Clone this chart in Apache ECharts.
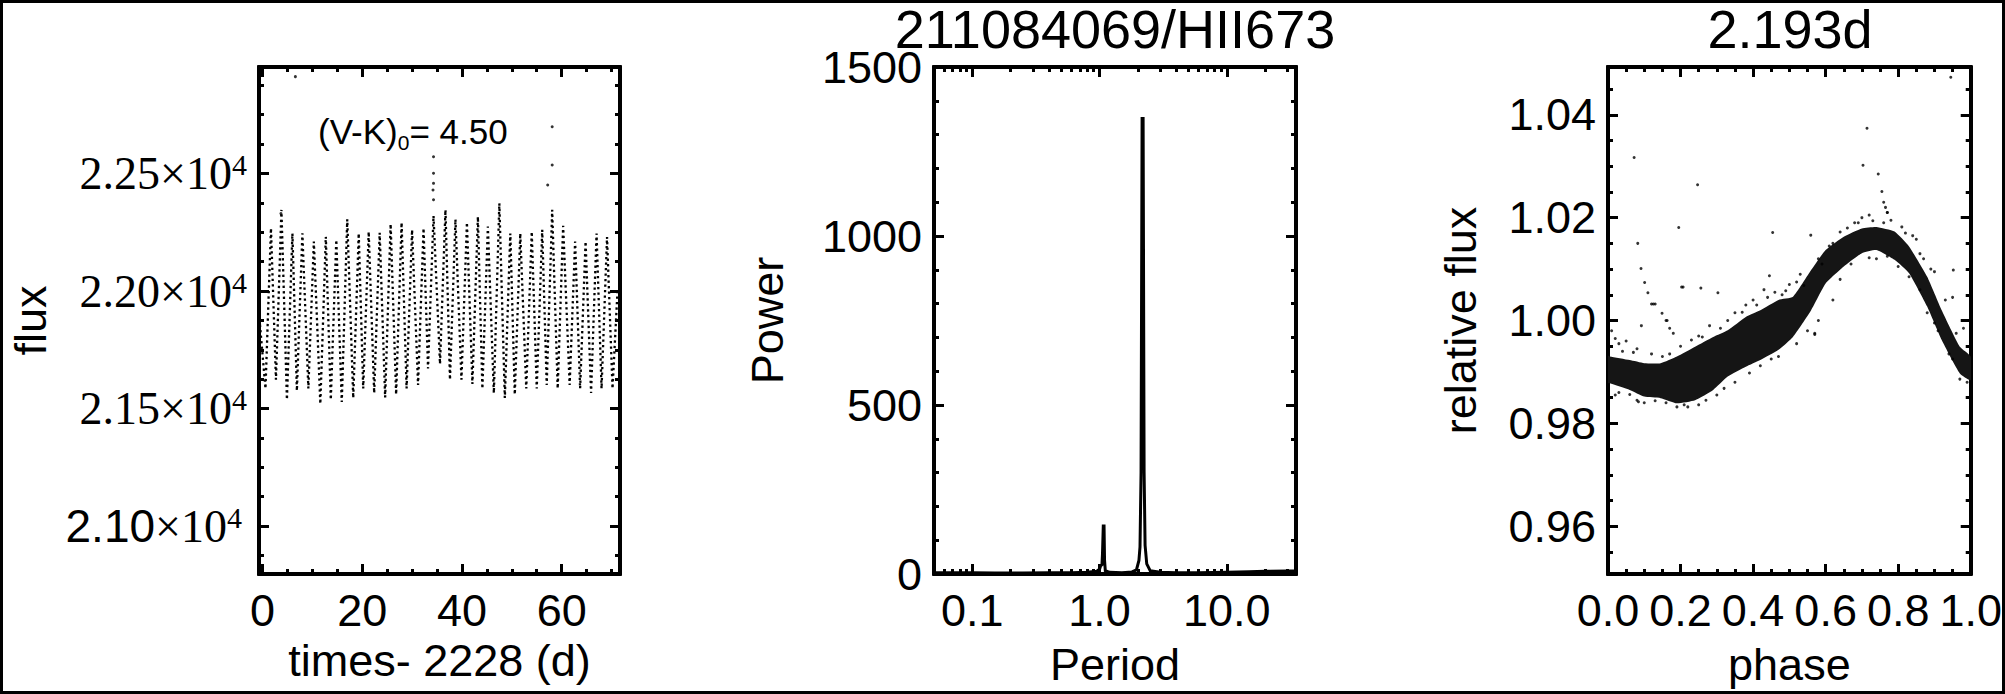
<!DOCTYPE html>
<html><head><meta charset="utf-8">
<script src="https://cdn.jsdelivr.net/npm/echarts@6/dist/echarts.min.js"></script>
<style>html,body{margin:0;padding:0;background:#fff}#c{width:2005px;height:694px}</style>
</head><body><div id="c"></div>
<script>
// ---------------- Panel 1 : light curve (times - 2228 d, flux) ----------------
// vertices of each pulsation cycle (alternating cycle minimum / maximum)
const lcTime = [-0.6, 0.6, 1.7, 2.7, 3.8, 4.9, 6.0, 6.9, 8.0, 9.2, 10.3, 11.6, 12.7, 13.7, 14.8, 15.9, 17.0, 18.2, 19.3, 20.2, 21.3, 22.4, 23.5, 24.6, 25.7, 26.8, 27.9, 28.9, 30.0, 31.2, 32.3, 33.2, 34.3, 35.6, 36.7, 37.6, 38.7, 39.9, 41.0, 42.1, 43.2, 44.1, 45.2, 46.4, 47.5, 48.6, 49.7, 50.6, 51.7, 52.9, 54.0, 55.0, 56.1, 57.0, 58.1, 59.2, 60.3, 61.6, 62.7, 63.7, 64.8, 65.9, 67.0, 68.0, 69.1, 70.2, 71.2];
const lcFlux = [21880, 21585, 22267, 21623, 22345, 21538, 22245, 21576, 22245, 21585, 22210, 21520, 22231, 21538, 22217, 21528, 22305, 21545, 22245, 21585, 22252, 21566, 22248, 21547, 22285, 21560, 22291, 21585, 22260, 21600, 22267, 21670, 22320, 21690, 22345, 21623, 22305, 21623, 22291, 21604, 22316, 21585, 22274, 21566, 22373, 21545, 22245, 21560, 22245, 21585, 22252, 21585, 22260, 21600, 22345, 21585, 22277, 21600, 22210, 21585, 22210, 21566, 22245, 21585, 22230, 21585, 22000];
const lcOutTime = [6.6, 34.3, 34.3, 34.3, 34.2, 34.3, 58.1, 58.1, 57.2, 3.7];
const lcOutFlux = [22912, 22571, 22501, 22458, 22430, 22388, 22699, 22536, 22451, 22330];
const p1XMajor = [0, 20, 40, 60];
const p1XMinor = [5, 10, 15, 25, 30, 35, 45, 50, 55, 65, 70];
const p1YMajor = [21000, 21500, 22000, 22500];
const p1YMinor = [20875, 21125, 21250, 21375, 21625, 21750, 21875, 22125, 22250, 22375, 22625, 22750, 22875];

// ---------------- Panel 2 : periodogram ----------------
const perPeriod = [0.05, 0.07, 0.1, 0.15, 0.25, 0.4, 0.6, 0.8, 0.95, 1.0, 1.02, 1.045, 1.055, 1.07, 1.085, 1.095, 1.11, 1.2, 1.5, 1.8, 1.95, 2.04, 2.08, 2.12, 2.16, 2.2, 2.24, 2.28, 2.35, 2.5, 3.0, 4, 6, 10, 15, 20, 30, 35];
const perPower  = [4, 4, 4, 3, 3, 4, 4, 5, 8, 14, 24, 28, 60, 142, 142, 40, 10, 5, 4, 6, 12, 40, 80, 300, 1348, 1348, 300, 85, 30, 10, 5, 4, 4, 5, 7, 8, 9, 9];
const p2XMajor = [0.1, 1, 10];
const p2XMinor = [0.05, 0.06, 0.07, 0.08, 0.09, 0.2, 0.3, 0.4, 0.5, 0.6, 0.7, 0.8, 0.9, 2, 3, 4, 5, 6, 7, 8, 9, 20, 30];
const p2YMajor = [0, 500, 1000, 1500];
const p2YMinor = [100, 200, 300, 400, 600, 700, 800, 900, 1100, 1200, 1300, 1400];

// ---------------- Panel 3 : phased light curve ----------------
const bandPhase = [0.0, 0.005, 0.06, 0.10, 0.145, 0.19, 0.24, 0.29, 0.33, 0.38, 0.42, 0.47, 0.51, 0.56, 0.60, 0.65, 0.70, 0.74, 0.79, 0.83, 0.88, 0.92, 0.97, 1.0];
const bandUpper = [0.9932, 0.9930, 0.9923, 0.9917, 0.9917, 0.9930, 0.9949, 0.9968, 0.9981, 1.0007, 1.0020, 1.0040, 1.0046, 1.0098, 1.0137, 1.0163, 1.0179, 1.0182, 1.0173, 1.0144, 1.0085, 1.0020, 0.9949, 0.9930];
const bandLower = [0.9878, 0.9878, 0.9865, 0.9852, 0.9849, 0.9839, 0.9845, 0.9865, 0.9891, 0.9910, 0.9923, 0.9943, 0.9968, 1.0020, 1.0072, 1.0105, 1.0131, 1.0137, 1.0118, 1.0092, 1.0027, 0.9962, 0.9897, 0.9884];
const dotPhase = [0.072, 0.082, 0.091, 0.101, 0.110, 0.12, 0.125, 0.13, 0.149, 0.16, 0.163, 0.17, 0.18, 0.195, 0.203, 0.207, 0.247, 0.256, 0.303, 0.445, 0.454, 0.559, 0.570, 0.703, 0.714, 0.745, 0.755, 0.76, 0.765, 0.77, 0.952, 0.945, 0.084, 0.092,
  0.02, 0.03, 0.01, 0.05, 0.08, 0.12, 0.20, 0.25, 0.28, 0.33, 0.35, 0.38, 0.40, 0.43, 0.46, 0.50, 0.52, 0.53, 0.58, 0.62, 0.68, 0.70, 0.72, 0.77, 0.78, 0.82, 0.84, 0.86, 0.90, 0.95, 0.98,
  0.02, 0.08, 0.10, 0.19, 0.21, 0.27, 0.30, 0.35, 0.45, 0.55, 0.57, 0.62, 0.74, 0.80, 0.86, 0.90, 0.95, 0.99,
  0.04, 0.07, 0.15, 0.17, 0.23, 0.26, 0.31, 0.37, 0.41, 0.44, 0.48, 0.49, 0.54, 0.59, 0.61, 0.64, 0.66, 0.69, 0.73, 0.76, 0.81, 0.85, 0.87, 0.89, 0.93, 0.96,
  0.03, 0.06, 0.13, 0.16, 0.22, 0.25, 0.32, 0.39, 0.42, 0.47, 0.52, 0.58, 0.64, 0.67, 0.72, 0.77, 0.83, 0.88, 0.91, 0.94, 0.97];
const dotFlux = [1.0317, 1.0150, 1.0101, 1.0074, 1.0054, 1.0032, 1.0032, 1.0032, 1.0014, 1.0000, 1.0000, 0.9985, 0.9975, 1.0181, 1.0065, 1.0065, 1.0264, 1.0063, 1.0054, 1.0087, 1.0171, 1.0166, 0.9973, 1.0302, 1.0374, 1.0285, 1.0251, 1.0230, 1.0220, 1.0210, 1.0098, 1.0473, 0.9842, 0.9990,
  0.9965, 0.9955, 0.9980, 0.9960, 0.9945, 0.9935, 0.9950, 0.9970, 0.9990, 1.0000, 1.0015, 1.0030, 1.0040, 1.0060, 1.0055, 1.0070, 1.0075, 1.0090, 1.0120, 1.0150, 1.0190, 1.0200, 1.0205, 1.0210, 1.0195, 1.0170, 1.0165, 1.0130, 1.0095, 1.0045, 0.9985,
  0.9855, 0.9845, 0.9840, 0.9832, 0.9836, 0.9845, 0.9855, 0.9880, 0.9925, 0.9980, 0.9975, 1.0040, 1.0120, 1.0105, 1.0060, 0.9995, 0.9925, 0.9880,
  0.9940, 0.9938, 0.9930, 0.9935, 0.9962, 0.9968, 0.9985, 1.0016, 1.0030, 1.0045, 1.0050, 1.0058, 1.0068, 1.0110, 1.0145, 1.0172, 1.0180, 1.0190, 1.0194, 1.0190, 1.0182, 1.0158, 1.0120, 1.0100, 1.0040, 0.9975,
  0.9860, 0.9856, 0.9844, 0.9840, 0.9832, 0.9836, 0.9868, 0.9898, 0.9912, 0.9930, 0.9955, 1.0000, 1.0080, 1.0110, 1.0122, 1.0125, 1.0085, 1.0015, 0.9980, 0.9935, 0.9886];
const p3XMajor = [0, 0.2, 0.4, 0.6, 0.8, 1.0];
const p3XMinor = [0.05, 0.1, 0.15, 0.25, 0.3, 0.35, 0.45, 0.5, 0.55, 0.65, 0.7, 0.75, 0.85, 0.9, 0.95];
const p3YMajor = [0.96, 0.98, 1.00, 1.02, 1.04];
const p3YMinor = [0.955, 0.965, 0.97, 0.975, 0.985, 0.99, 0.995, 1.005, 1.01, 1.015, 1.025, 1.03, 1.035, 1.045];

// ---------------- styling ----------------
const SANS = "'Liberation Sans', Arial, Helvetica, sans-serif";
const SERIF = "'Liberation Serif', 'Times New Roman', serif";
const FS = 45;
const BLACK = '#000';

function axisSet(dim, gi, type, min, max, major, minor, extra) {
  const posA = dim === 'x' ? 'bottom' : 'left';
  const posB = dim === 'x' ? 'top' : 'right';
  const mk = (pos, vals, len) => {
    const a = {
      gridIndex: gi, type: type, position: pos, min: min, max: max, silent: true,
      axisLine: {show: true, onZero: false, lineStyle: {color: BLACK, width: 4}},
      axisTick: {show: true, inside: true, length: len, customValues: vals, lineStyle: {color: BLACK, width: 3}},
      axisLabel: {show: false}, splitLine: {show: false}, minorTick: {show: false}
    };
    if (type === 'log') a.logBase = 10;
    return a;
  };
  const main = mk(posA, major, 10);
  Object.assign(main, extra);
  return [main, mk(posA, minor, 5), mk(posB, major, 10), mk(posB, minor, 5)];
}
const lab = (vals, fmt, margin, extra) => Object.assign({show: true, customValues: vals, formatter: fmt, margin: margin, color: BLACK, fontSize: FS, fontFamily: SANS}, extra || {});
const nm = {color: BLACK, fontSize: FS, fontFamily: SANS};

const xAxes = [].concat(
  axisSet('x', 0, 'value', -0.7, 71.7, p1XMajor, p1XMinor, {
    axisLabel: lab(p1XMajor, v => String(v), 14),
    name: 'times- 2228 (d)', nameLocation: 'middle', nameGap: 58, nameTextStyle: nm}),
  axisSet('x', 1, 'log', 0.05, 35, p2XMajor, p2XMinor, {
    axisLabel: lab(p2XMajor, v => Number(v).toFixed(1), 14),
    name: 'Period', nameLocation: 'middle', nameGap: 68, nameTextStyle: nm}),
  axisSet('x', 2, 'value', 0, 1, p3XMajor, p3XMinor, {
    axisLabel: lab(p3XMajor, v => Number(v).toFixed(1), 14),
    name: 'phase', nameLocation: 'middle', nameGap: 68, nameTextStyle: nm})
);
const yAxes = [].concat(
  axisSet('y', 0, 'value', 20796, 22953, p1YMajor, p1YMinor, {
    axisLabel: {show: true, customValues: p1YMajor, margin: 12, color: BLACK,
      formatter: v => v === 21000 ? '{s|2.10}{t|×10}{w|4}' : '{t|' + (v / 1e4).toFixed(2) + '×10}{u|4}',
      rich: {
        t: {fontFamily: SERIF, fontSize: 46, color: BLACK, lineHeight: 48},
        s: {fontFamily: SANS, fontSize: 46, color: BLACK, lineHeight: 48},
        u: {fontFamily: SERIF, fontSize: 30, color: BLACK, verticalAlign: 'top', lineHeight: 48},
        w: {fontFamily: SERIF, fontSize: 30, color: BLACK, verticalAlign: 'top', lineHeight: 48, padding: [0, 5, 0, 0]}
      }},
    name: 'flux', nameLocation: 'middle', nameGap: 206, nameTextStyle: nm}),
  axisSet('y', 1, 'value', 0, 1500, p2YMajor, p2YMinor, {
    axisLabel: lab(p2YMajor, v => String(v), 12),
    name: 'Power', nameLocation: 'middle', nameGap: 144, nameTextStyle: nm}),
  axisSet('y', 2, 'value', 0.9507, 1.0493, p3YMajor, p3YMinor, {
    axisLabel: lab(p3YMajor, v => Number(v).toFixed(2), 12),
    name: 'relative flux', nameLocation: 'middle', nameGap: 125, nameTextStyle: nm})
);

const zip = (a, b) => a.map((v, i) => [v, b[i]]);

const option = {
  animation: false,
  backgroundColor: '#fff',
  grid: [
    {left: 259, top: 67, width: 361, height: 507},
    {left: 934, top: 67, width: 362, height: 507},
    {left: 1608, top: 67, width: 364, height: 507}
  ],
  xAxis: xAxes,
  yAxis: yAxes,
  graphic: [
    {type: 'rect', silent: true, z: 100, shape: {x: 1.5, y: 1.5, width: 2002, height: 691}, style: {fill: 'none', stroke: BLACK, lineWidth: 3}},
    {type: 'text', x: 1115, y: 2, style: {text: '211084069/HII673', fontSize: 54, fontFamily: SANS, fill: BLACK, align: 'center', verticalAlign: 'top'}},
    {type: 'text', x: 1790, y: 2, style: {text: '2.193d', fontSize: 54, fontFamily: SANS, fill: BLACK, align: 'center', verticalAlign: 'top'}},
    {type: 'text', x: 318, y: 153, style: {text: '{m|(V-K)}{s|0}{m|= 4.50}', align: 'left', verticalAlign: 'bottom',
      rich: {m: {fontSize: 35, fontFamily: SANS, fill: BLACK, lineHeight: 44}, s: {fontSize: 21, fontFamily: SANS, fill: BLACK, lineHeight: 44, verticalAlign: 'bottom'}}}}
  ],
  series: [
    {type: 'line', xAxisIndex: 0, yAxisIndex: 0, data: zip(lcTime, lcFlux), symbol: 'none', silent: true,
      lineStyle: {color: BLACK, width: 2.3, type: [2.3, 3.2], cap: 'butt'}},
    {type: 'scatter', xAxisIndex: 0, yAxisIndex: 0, data: zip(lcOutTime, lcOutFlux), symbol: 'circle', symbolSize: 3, itemStyle: {color: BLACK}, silent: true},
    {type: 'line', xAxisIndex: 4, yAxisIndex: 4, data: zip(perPeriod, perPower), symbol: 'none', silent: true,
      lineStyle: {color: BLACK, width: 3, join: 'miter'}},
    {type: 'custom', xAxisIndex: 8, yAxisIndex: 8, silent: true, clip: true,
      data: bandPhase.map((p, i) => [p, bandUpper[i], bandLower[i]]),
      encode: {x: 0, y: [1, 2]},
      renderItem: function (params, api) {
        if (params.dataIndex !== 0) return null;
        const pts = [];
        for (let i = 0; i < bandPhase.length; i++) pts.push(api.coord([bandPhase[i], bandUpper[i]]));
        for (let i = bandPhase.length - 1; i >= 0; i--) pts.push(api.coord([bandPhase[i], bandLower[i]]));
        return {type: 'polygon', shape: {points: pts, smooth: 0.15}, style: {fill: '#151515', stroke: 'none'}};
      }},
    {type: 'scatter', xAxisIndex: 8, yAxisIndex: 8, data: zip(dotPhase, dotFlux), symbol: 'circle', symbolSize: 3, itemStyle: {color: BLACK}, silent: true}
  ]
};
const chart = echarts.init(document.getElementById('c'), null, {renderer: 'svg', width: 2005, height: 694});
chart.setOption(option);
</script></body></html>
